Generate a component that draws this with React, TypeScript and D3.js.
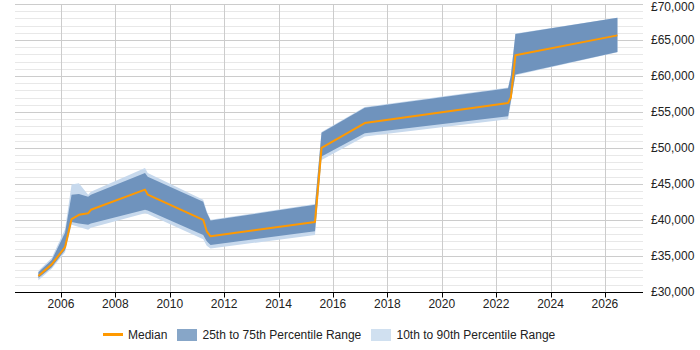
import { useEffect, useRef } from 'react';
import * as d3 from 'd3';

const years   = [2005.17, 2005.66, 2006.15, 2006.39, 2006.66, 2007.0, 2007.1, 2009.09, 2009.19, 2011.23, 2011.36, 2011.5, 2015.34, 2015.58, 2017.17, 2022.44, 2022.54, 2022.71, 2026.46];
const median  = [32200, 33800, 36200, 40100, 40700, 40900, 41400, 44200, 43500, 40000, 38400, 37700, 39700, 50000, 53450, 56250, 57000, 62900, 65650];
const p25     = [31900, 33400, 35800, 39700, 39500, 39300, 39500, 41400, 41300, 37900, 37000, 36500, 38400, 48800, 52050, 54400, 56500, 60200, 63350];
const p75     = [32700, 34400, 38200, 43500, 43600, 43200, 43500, 46500, 46000, 42500, 41000, 39900, 42100, 52100, 55600, 58300, 60000, 65850, 68100];
const p10     = [31600, 33200, 35500, 39300, 39000, 38600, 38900, 40900, 40800, 37300, 36400, 36000, 37900, 48300, 51600, 54000, 56200, 60100, 63300];
const p90     = [32900, 34700, 38700, 44900, 45100, 43500, 43900, 47200, 46500, 42800, 41200, 40000, 42200, 52200, 55700, 58400, 60100, 65900, 68100];

const xTicks  = [2006, 2008, 2010, 2012, 2014, 2016, 2018, 2020, 2022, 2024, 2026];
const yTicks  = [30000, 35000, 40000, 45000, 50000, 55000, 60000, 65000, 70000];
const legend  = ['Median', '25th to 75th Percentile Range', '10th to 90th Percentile Range'];

const FONT = '"Liberation Sans", Arial, sans-serif';

export default function App() {
  const svgRef = useRef<SVGSVGElement>(null);

  useEffect(() => {
    if (!svgRef.current) return;
    const svg = d3.select(svgRef.current);
    svg.selectAll('*').remove();

    const W = 700, H = 350;
    const left = 15, right = 643, top = 4.1, bottom = 291.7;
    svg.attr('width', W).attr('height', H);

    const x = d3.scaleLinear().domain([2004.31, 2027.4]).range([left, right]);
    const y = d3.scaleLinear().domain([30000, 70000]).range([bottom, top]);

    const rows = years.map((yr, i) => ({
      yr, med: median[i], lo: p25[i], hi: p75[i], lo10: p10[i], hi90: p90[i],
    }));

    // minor gridlines
    const minor = d3.range(30000, 70001, 1000).filter(v => v % 5000 !== 0);
    svg.append('g').selectAll('line').data(minor).enter().append('line')
      .attr('x1', left).attr('x2', right)
      .attr('y1', d => Math.round(y(d)) + 0.5).attr('y2', d => Math.round(y(d)) + 0.5)
      .attr('stroke', '#e8e8e8').attr('stroke-width', 1);

    // major gridlines
    svg.append('g').selectAll('line').data(yTicks).enter().append('line')
      .attr('x1', left).attr('x2', right)
      .attr('y1', d => Math.round(y(d)) + 0.5).attr('y2', d => Math.round(y(d)) + 0.5)
      .attr('stroke', '#cccccc').attr('stroke-width', 1);

    svg.append('g').selectAll('line').data(xTicks).enter().append('line')
      .attr('x1', d => Math.round(x(d)) + 0.5).attr('x2', d => Math.round(x(d)) + 0.5)
      .attr('y1', top).attr('y2', bottom)
      .attr('stroke', '#cccccc').attr('stroke-width', 1);

    const area10 = d3.area<typeof rows[0]>()
      .x(d => x(d.yr)).y0(d => y(d.lo10)).y1(d => y(d.hi90));
    const area25 = d3.area<typeof rows[0]>()
      .x(d => x(d.yr)).y0(d => y(d.lo)).y1(d => y(d.hi));
    const line = d3.line<typeof rows[0]>()
      .x(d => x(d.yr)).y(d => y(d.med));

    svg.append('path').attr('d', area10(rows)!).attr('fill', '#c7d9ed');
    svg.append('path').attr('d', area25(rows)!).attr('fill', '#6f93bd');
    svg.append('path').attr('d', line(rows)!)
      .attr('fill', 'none').attr('stroke', '#ff9900').attr('stroke-width', 2)
      .attr('stroke-linejoin', 'round');

    // bottom axis
    const axis = svg.append('g').attr('transform', `translate(0,${Math.round(bottom) + 0.5})`);
    axis.append('line').attr('x1', left).attr('x2', right).attr('stroke', '#000');
    axis.selectAll('.tick').data(xTicks).enter().append('line')
      .attr('x1', d => Math.round(x(d)) + 0.5).attr('x2', d => Math.round(x(d)) + 0.5)
      .attr('y1', 0).attr('y2', 5).attr('stroke', '#000');
    axis.selectAll('text').data(xTicks).enter().append('text')
      .attr('x', d => x(d)).attr('y', 15)
      .attr('text-anchor', 'middle').attr('font-family', FONT).attr('font-size', 12)
      .attr('fill', '#222').text(d => d);

    // right axis labels (top one kept inside the frame)
    svg.append('g').selectAll('text').data(yTicks).enter().append('text')
      .attr('x', 651).attr('y', d => Math.max(y(d) + 4, 11))
      .attr('font-family', FONT).attr('font-size', 12).attr('fill', '#222')
      .text(d => '£' + d3.format(',')(d));

    // legend
    const lg = svg.append('g').attr('font-family', FONT).attr('font-size', 12).attr('fill', '#222');
    lg.append('line').attr('x1', 103).attr('x2', 123).attr('y1', 334.5).attr('y2', 334.5)
      .attr('stroke', '#ff9900').attr('stroke-width', 3);
    lg.append('text').attr('x', 128).attr('y', 339).text(legend[0]);
    lg.append('rect').attr('x', 177).attr('y', 329).attr('width', 20).attr('height', 12).attr('fill', '#87a6c8');
    lg.append('text').attr('x', 202.5).attr('y', 339).text(legend[1]);
    lg.append('rect').attr('x', 371).attr('y', 329).attr('width', 20).attr('height', 12).attr('fill', '#d0e0f0');
    lg.append('text').attr('x', 396.5).attr('y', 339).text(legend[2]);
  }, []);

  return (
    <div style={{ position: 'absolute', left: 0, top: 0, width: 700, height: 350 }}>
      <svg ref={svgRef} style={{ display: 'block' }} />
    </div>
  );
}
